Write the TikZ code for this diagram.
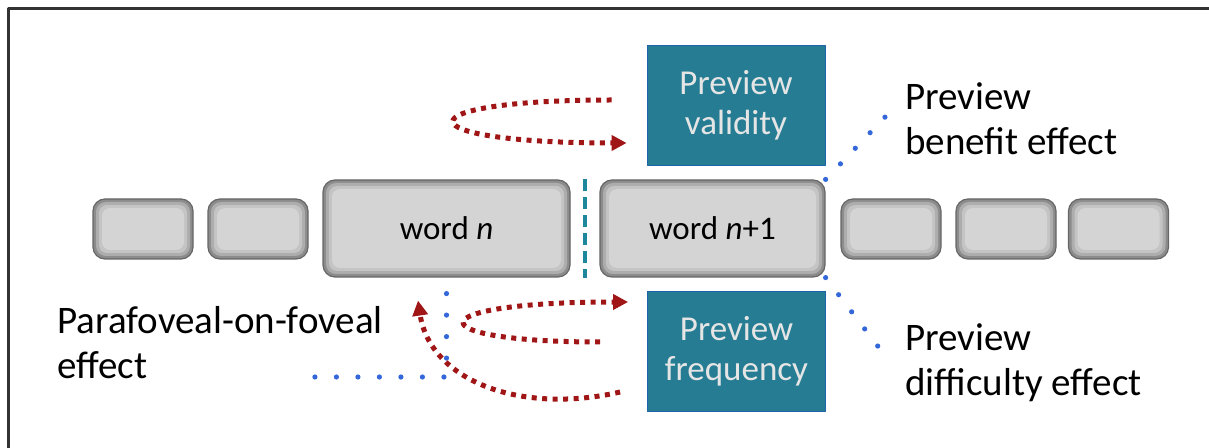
\documentclass[tikz,border=0pt]{standalone}
\usepackage{fontspec}
\setmainfont{Carlito}
\usetikzlibrary{arrows.meta,calc}

\definecolor{boxteal}{RGB}{38,125,147}
\definecolor{loopred}{RGB}{160,22,22}
\definecolor{dotblue}{RGB}{52,104,218}
\definecolor{splitteal}{RGB}{30,135,155}

\begin{document}
\begin{tikzpicture}[
			x=0.5pt, y=-0.5pt,
			line cap=round,
			line join=round,
			wordbox/.style={draw=black!60, line width=0.6pt, rounded corners=6pt, fill=black!45, inner sep=0pt,
				path picture={
					\fill[black!32, rounded corners=5pt] ($(path picture bounding box.south west)+(1.5pt,1.5pt)$) rectangle ($(path picture bounding box.north east)+(-1.5pt,-1.5pt)$);
					\fill[black!23, rounded corners=4pt] ($(path picture bounding box.south west)+(3pt,3pt)$) rectangle ($(path picture bounding box.north east)+(-3pt,-3pt)$);
					\fill[black!17, rounded corners=4pt] ($(path picture bounding box.south west)+(4.5pt,4.5pt)$) rectangle ($(path picture bounding box.north east)+(-4.5pt,-4.5pt)$);}},
			smallbox/.style={wordbox, minimum width=50pt, minimum height=30pt},
			bigbox/.style={wordbox, minimum height=48.5pt, font=\fontsize{16.5}{19}\selectfont},
			tealbox/.style={fill=boxteal, draw=boxteal!80!blue, text=white!90!black, minimum width=89pt, minimum height=60pt, align=center, font=\fontsize{17.5}{20}\selectfont},
			efflabel/.style={anchor=north west, inner sep=0pt, align=left, font=\fontsize{19.5}{22.5}\selectfont},
			redloop/.style={loopred, line width=2.5pt, line cap=butt, dash pattern=on 2.5pt off 2.75pt, -{Triangle[length=7.5pt, width=7.5pt]}},
			bluedots/.style={dotblue, line width=2.6pt, line cap=round, dash pattern=on 0pt off 10.75pt},
			splitline/.style={splitteal, line width=1.6pt, line cap=butt, dash pattern=on 6pt off 3pt}
			]
			\useasboundingbox (0,0) rectangle (1209,448);
			\draw[black!80, line width=1.5pt] (8.5,448) -- (8.5,8.5) -- (1209,8.5);
			
			% row of words
			\node[smallbox] (l1) at (143,229) {};
			\node[smallbox] (l2) at (258,229) {};
			\node[bigbox, minimum width=123.5pt] (wordn) at (446.5,228.5) {word \textit{n}};
			\node[bigbox, minimum width=112.5pt] (wordn1) at (712.5,228.5) {word \textit{n}+1};
			\node[smallbox] (r1) at (891,229) {};
			\node[smallbox] (r2) at (1006,229) {};
			\node[smallbox] (r3) at (1118.5,229) {};
			\draw[splitline] ($(wordn.north east)!.5!(wordn1.north west)$) -- ($(wordn.south east)!.5!(wordn1.south west)$);
			
			% preview manipulations
			\node[tealbox] (valid) at (736,105) {Preview\\validity};
			\node[tealbox] (freq) at (736.5,351) {Preview\\frequency};
			
			% effects
			\node[efflabel] (benefit) at (905,82) {Preview\\benefit effect};
			\node[efflabel] (difficulty) at (905,323) {Preview\\difficulty effect};
			\node[efflabel] (pof) at (57,306) {Parafoveal-on-foveal\\effect};
			
			\coordinate (bentip) at (887,115);
			\coordinate (diftip) at (883,353);
			\coordinate (pofend) at (312,377);
			\draw[bluedots] (wordn1.north east) -- (bentip);
			\draw[bluedots] (wordn1.south east) -- (diftip);
			\draw[bluedots] ($(wordn.south)+(0,16)$) |- (pofend);
			
			% loops
			\draw[redloop] ($(valid.west)+(-35,-5)$) .. controls +(-212,0) and +(-227,0) .. ($(valid.west)+(-20,38)$);
			\draw[redloop] ($(freq.west)+(-47,-9)$) .. controls +(-185,0) and +(-213,0) .. ($(freq.west)+(-19,-49)$);
			\draw[redloop] ($(freq.west)+(-27,41)$) .. controls +(-100,23) and +(12,80) .. ($(wordn.south)+(-28.5,23)$);
		\end{tikzpicture}
\end{document}
